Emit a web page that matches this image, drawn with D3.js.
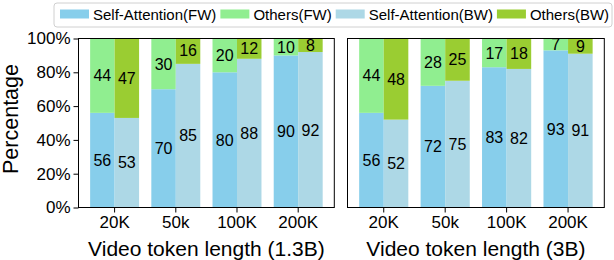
<!DOCTYPE html>
<html><head><meta charset="utf-8">
<script src="https://cdn.jsdelivr.net/npm/d3@7"></script>
<style>body{margin:0;background:#fff}svg{display:block}text{font-family:"Liberation Sans",Arial,Helvetica,sans-serif}</style>
</head><body><svg id="c" width="614" height="260"></svg>
<script>
const categories = ["20K","50k","100K","200K"];
const panelLabels = ["Video token length (1.3B)","Video token length (3B)"];
const seriesNames = ["Self-Attention(FW)","Others(FW)","Self-Attention(BW)","Others(BW)"];
const colors = ["#87CEEB","#90EE90","#ADD8E6","#9ACD32"];
// 1.3B
const saFW_13 = [56,70,80,90];
const otFW_13 = [44,30,20,10];
const saBW_13 = [53,85,88,92];
const otBW_13 = [47,16,12,8];
// 3B
const saFW_3 = [56,72,83,93];
const otFW_3 = [44,28,17,7];
const saBW_3 = [52,75,82,91];
const otBW_3 = [48,25,18,9];
const yTicks = [0,20,40,60,80,100];

const svg = d3.select("#c");
const plotTop = 38.5, plotBottom = 207.5;
const panels = [
  {x0:78.5, x1:334.3, label:panelLabels[0], sa:[saFW_13,saBW_13], ot:[otFW_13,otBW_13], yaxis:true},
  {x0:347.5, x1:604.3, label:panelLabels[1], sa:[saFW_3,saBW_3], ot:[otFW_3,otBW_3], yaxis:false}
];
const y = d3.scaleLinear().domain([0,100]).range([plotBottom, plotTop]);

panels.forEach((p, pi) => {
  const g = svg.append("g");
  const x = d3.scaleBand().domain(categories).range([p.x0, p.x1]).paddingInner(0.2).paddingOuter(0.19);
  const sub = d3.scaleBand().domain([0,1]).range([0, x.bandwidth()]).padding(0);
  const clipId = "clip"+pi;
  svg.append("clipPath").attr("id", clipId).append("rect")
    .attr("x", p.x0).attr("y", plotTop).attr("width", p.x1-p.x0).attr("height", plotBottom-plotTop);
  const bars = g.append("g").attr("clip-path", `url(#${clipId})`);
  categories.forEach((c, i) => {
    [0,1].forEach(k => {
      const sa = p.sa[k][i], ot = p.ot[k][i];
      const bx = x(c) + sub(k), bw = sub.bandwidth();
      const saColor = k===0 ? colors[0] : colors[2];
      const otColor = k===0 ? colors[1] : colors[3];
      bars.append("rect").attr("x", bx).attr("width", bw)
        .attr("y", y(sa)).attr("height", y(0)-y(sa)).attr("fill", saColor);
      bars.append("rect").attr("x", bx).attr("width", bw)
        .attr("y", y(sa+ot)).attr("height", y(sa)-y(sa+ot)).attr("fill", otColor);
      g.append("text").attr("x", bx+bw/2).attr("y", y(sa/2)).attr("dy","0.36em")
        .attr("text-anchor","middle").attr("font-size","16px").attr("fill","#000").text(sa);
      g.append("text").attr("x", bx+bw/2).attr("y", y(sa+ot/2)).attr("dy","0.36em")
        .attr("text-anchor","middle").attr("font-size","16px").attr("fill","#000").text(ot);
    });
  });
  g.append("rect").attr("x", p.x0).attr("y", plotTop).attr("width", p.x1-p.x0).attr("height", plotBottom-plotTop)
    .attr("fill","none").attr("stroke","#000").attr("stroke-width",1);
  const xa = g.append("g").attr("transform", `translate(0,${plotBottom})`)
    .call(d3.axisBottom(x).tickSize(5).tickSizeOuter(0).tickPadding(3));
  xa.select(".domain").remove();
  xa.selectAll("text").attr("font-size","17px").attr("fill","#000").attr("font-family",null);
  xa.selectAll("line").attr("stroke","#000");
  g.append("text").attr("x",(p.x0+p.x1)/2).attr("y",256).attr("text-anchor","middle")
    .attr("font-size","21px").attr("fill","#000").text(p.label);
  if (p.yaxis) {
    const ya = g.append("g").attr("transform", `translate(${p.x0},0)`)
      .call(d3.axisLeft(y).tickValues(yTicks).tickFormat(d => d+"%").tickSize(5).tickPadding(3));
    ya.select(".domain").remove();
    ya.selectAll("text").attr("font-size","17px").attr("fill","#000").attr("font-family",null);
    ya.selectAll("line").attr("stroke","#000");
    svg.append("text").attr("transform", `translate(17.5,119) rotate(-90)`)
      .attr("text-anchor","middle").attr("font-size","21.5px").attr("fill","#000").text("Percentage");
  }
});

const lg = svg.append("g");
lg.append("rect").attr("x",54).attr("y",3).attr("width",558).attr("height",24).attr("rx",3)
  .attr("fill","#fff").attr("stroke","#d0d0d0").attr("stroke-width",1);
let cx = 60;
seriesNames.forEach((name, i) => {
  lg.append("rect").attr("x", cx).attr("y", 9.5).attr("width", 29).attr("height", 9).attr("fill", colors[i]);
  const t = lg.append("text").attr("x", cx+33).attr("y", 19.5).attr("font-size","15px").attr("fill","#000").text(name);
  cx = cx + 33 + t.node().getComputedTextLength() + 4;
});
</script></body></html>
